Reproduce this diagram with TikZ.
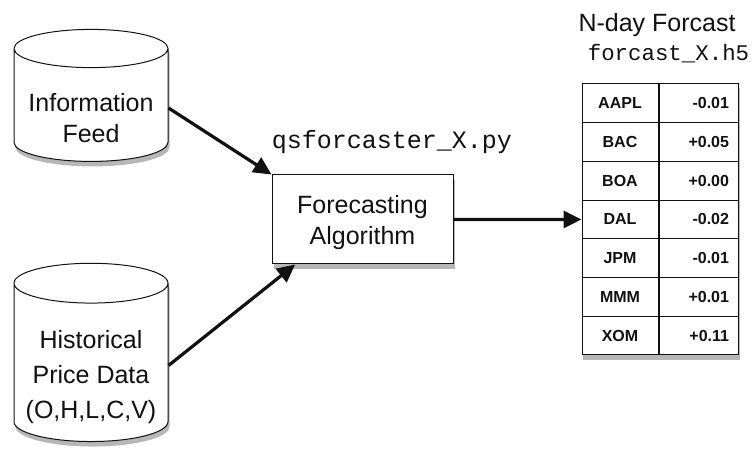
\documentclass[tikz,border=0pt]{standalone}
\usepackage{fontspec}
\setmainfont{Liberation Sans}
\setmonofont{Liberation Mono}
\usetikzlibrary{arrows.meta,positioning,calc,fit,backgrounds,shapes.geometric,shadows}
\definecolor{cInk}{HTML}{111111}
\definecolor{cShade}{HTML}{4A4A4A}
\newcommand\lblfont{\fontsize{25}{31}\selectfont}
\newcommand\cellfont{\bfseries\fontsize{16}{18}\selectfont}
\tikzset{
  every picture/.style={line width=1pt},
  dshadow/.style={drop shadow={shadow xshift=1.5pt, shadow yshift=-5pt,
                  fill=cShade, opacity=0.4}},
  store/.style={cylinder, shape border rotate=90, shape aspect=0.29, draw=cInk,
                fill=white, align=center, font=\lblfont, text=cInk, dshadow},
  algbox/.style={draw=cInk, fill=white, align=center, font=\lblfont, text=cInk,
                 minimum width=181pt, minimum height=89pt, text depth=0pt, dshadow},
  cell/.style={draw=cInk, minimum height=38.7pt, font=\cellfont, text=cInk, inner sep=0pt},
  symcell/.style={cell, minimum width=76pt},
  valcell/.style={cell, minimum width=79pt, text width=61pt, align=right},
  code/.style={font=\ttfamily\fontsize{25}{30}\selectfont, text=cInk, inner sep=0pt},
  flow/.style={-{Triangle[length=18pt,width=17pt]}, line width=3.2pt, draw=cInk},
}

\begin{document}
\begin{tikzpicture}[x=1pt,y=1pt]
\useasboundingbox (0,0) rectangle (752,452);

% ---------------------------------------------- inputs
\node[store, minimum width=154pt, minimum height=132pt, text height=70pt] (feed) at (91,344)
      {Information\\Feed};
\node[store, minimum width=154pt, minimum height=167pt, text height=112pt,
      font=\fontsize{25}{35}\selectfont] (hist) at (91,86.5)
      {Historical\\Price Data\\(O,H,L,C,V)};

% ---------------------------------------------- the script
\node[algbox] (algo) at (362.5,232.5) {Forecasting\\Algorithm};
\node[code] (script) at (392,310) {qsforcaster\_X.py};

% ---------------------------------------------- output table
\node[font=\lblfont, text=cInk, inner sep=0pt] (title) at (657,427) {N-day Forcast};
\node[code, font=\ttfamily\fontsize{22.4}{26}\selectfont] (outfile) at (668.5,398)
      {forcast\_X.h5};

\foreach \sym/\val [count=\i] in {AAPL/-0.01, BAC/+0.05, BOA/+0.00, DAL/-0.02,
                                  JPM/-0.01, MMM/+0.01, XOM/+0.11}{
  \node[symcell] (s\i) at (620,{368-38.7*(\i-0.5)}) {\sym};
  \node[valcell, right=0pt of s\i] (v\i) {\val};
}
\begin{scope}[on background layer]
  \node[fit=(s1)(v7), inner sep=0pt, fill=white, dshadow] (tbl) {};
\end{scope}

% ---------------------------------------------- arrows
\draw[flow] (feed.east) -- (algo.north west);
\draw[flow] (hist.east) -- ($(algo.south west)!0.13!(algo.south east)$);
\draw[flow] (algo.east) -- (s4.west);

\end{tikzpicture}
\end{document}
